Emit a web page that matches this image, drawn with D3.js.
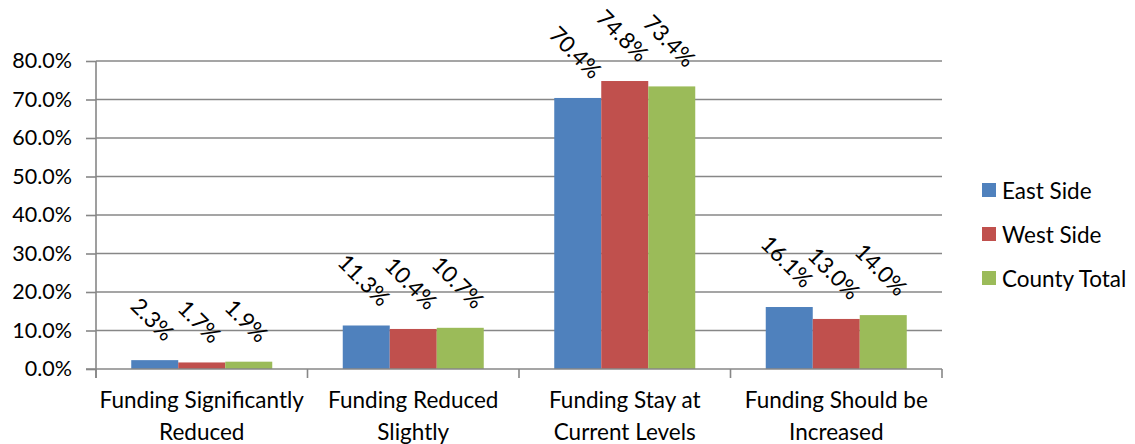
<!DOCTYPE html>
<html>
<head>
<meta charset="utf-8">
<script src="https://cdn.jsdelivr.net/npm/d3@7"></script>
<style>
  html, body { margin: 0; padding: 0; background: #fff; }
  svg { display: block; font-family: "Lato", "Open Sans", sans-serif; }
</style>
</head>
<body>
<svg id="chart" width="1135" height="444"></svg>
<script>
// Survey responses on funding levels, by area (percent of respondents)
const categories = [
  ["Funding Significantly", "Reduced"],
  ["Funding Reduced", "Slightly"],
  ["Funding Stay at", "Current Levels"],
  ["Funding Should be", "Increased"]
];
const seriesNames = ["East Side", "West Side", "County Total"];
const eastSide    = [2.3, 11.3, 70.4, 16.1];
const westSide    = [1.7, 10.4, 74.8, 13.0];
const countyTotal = [1.9, 10.7, 73.4, 14.0];
const yTicks = [0, 10, 20, 30, 40, 50, 60, 70, 80];
const colors = ["#4F81BD", "#C0504D", "#9BBB59"];

const seriesValues = [eastSide, westSide, countyTotal];

const svg = d3.select("#chart");
const margin = { left: 96, right: 193, top: 61, bottom: 75 };
const W = 1135, H = 444;
const plotW = W - margin.left - margin.right;
const plotH = H - margin.top - margin.bottom;
const fontSize = 22.5;

const g = svg.append("g").attr("transform", `translate(${margin.left},${margin.top})`);

const x0 = d3.scaleBand().domain(d3.range(categories.length)).range([0, plotW]).paddingInner(0).paddingOuter(0);
const x1 = d3.scaleBand().domain(d3.range(seriesNames.length)).range([0, x0.bandwidth()]).paddingInner(0).paddingOuter(0.75);
const y = d3.scaleLinear().domain([0, 80]).range([plotH, 0]);

const gridColor = "#878787";

// Horizontal gridlines with left tick marks
const yAxis = d3.axisLeft(y).tickValues(yTicks).tickFormat(d => d.toFixed(1) + "%").tickSize(10).tickPadding(14);
const yg = g.append("g").call(yAxis);
yg.select(".domain").remove();
yg.selectAll(".tick line").attr("stroke", gridColor).attr("stroke-width", 1.6);
yg.selectAll(".tick text").attr("font-size", 21.5).attr("fill", "#000").attr("font-family", "Lato, sans-serif");

g.append("g").selectAll("line").data(yTicks.filter(d => d > 0)).join("line")
  .attr("x1", 0).attr("x2", plotW)
  .attr("y1", d => y(d)).attr("y2", d => y(d))
  .attr("stroke", gridColor).attr("stroke-width", 1.6);

// Bars
const groups = g.append("g").selectAll("g").data(categories).join("g")
  .attr("transform", (d, i) => `translate(${x0(i)},0)`);

groups.each(function(cat, ci) {
  const grp = d3.select(this);
  seriesValues.forEach((vals, si) => {
    grp.append("rect")
      .attr("x", x1(si))
      .attr("y", y(vals[ci]))
      .attr("width", x1.bandwidth())
      .attr("height", plotH - y(vals[ci]))
      .attr("fill", colors[si]);
  });
});

// Rotated value labels
groups.each(function(cat, ci) {
  const grp = d3.select(this);
  seriesValues.forEach((vals, si) => {
    const t = grp.append("text")
      .text(vals[ci].toFixed(1) + "%")
      .attr("font-size", fontSize)
      .attr("fill", "#000")
      .attr("text-anchor", "middle")
      .attr("dominant-baseline", "central");
    const L = t.node().getComputedTextLength();
    const h = 16;
    const half = (L + h) * Math.SQRT1_2 / 2;
    const cx = x1(si) + x1.bandwidth() / 2 - 2;
    const cy = y(vals[ci]) - 18 - half;
    t.attr("transform", `translate(${cx},${cy}) rotate(45)`);
  });
});

// Axes lines
g.append("line").attr("x1", 0).attr("x2", 0).attr("y1", 0).attr("y2", plotH + 9)
  .attr("stroke", gridColor).attr("stroke-width", 1.6);
g.append("line").attr("x1", -10).attr("x2", plotW).attr("y1", plotH).attr("y2", plotH)
  .attr("stroke", gridColor).attr("stroke-width", 1.6);
g.append("g").selectAll("line").data(d3.range(categories.length + 1)).join("line")
  .attr("x1", i => i * x0.bandwidth()).attr("x2", i => i * x0.bandwidth())
  .attr("y1", plotH).attr("y2", plotH + 9)
  .attr("stroke", gridColor).attr("stroke-width", 1.6);

// Category labels (two lines)
const catLabels = g.append("g").selectAll("text").data(categories).join("text")
  .attr("text-anchor", "middle")
  .attr("font-size", fontSize)
  .attr("fill", "#000")
  .attr("transform", (d, i) => `translate(${x0(i) + x0.bandwidth() / 2},${plotH + 39})`);
catLabels.selectAll("tspan").data(d => d).join("tspan")
  .attr("x", 0)
  .attr("dy", (d, i) => i === 0 ? 0 : 32)
  .text(d => d);

// Legend
const legend = svg.append("g").attr("transform", "translate(982,0)");
const legendY = [190, 234, 278];
seriesNames.forEach((name, i) => {
  legend.append("rect").attr("x", 0).attr("y", legendY[i] - 7).attr("width", 14).attr("height", 14).attr("fill", colors[i]);
  legend.append("text").attr("x", 20).attr("y", legendY[i]).attr("dominant-baseline", "central")
    .attr("font-size", fontSize).attr("fill", "#000").text(name);
});
</script>
</body>
</html>
